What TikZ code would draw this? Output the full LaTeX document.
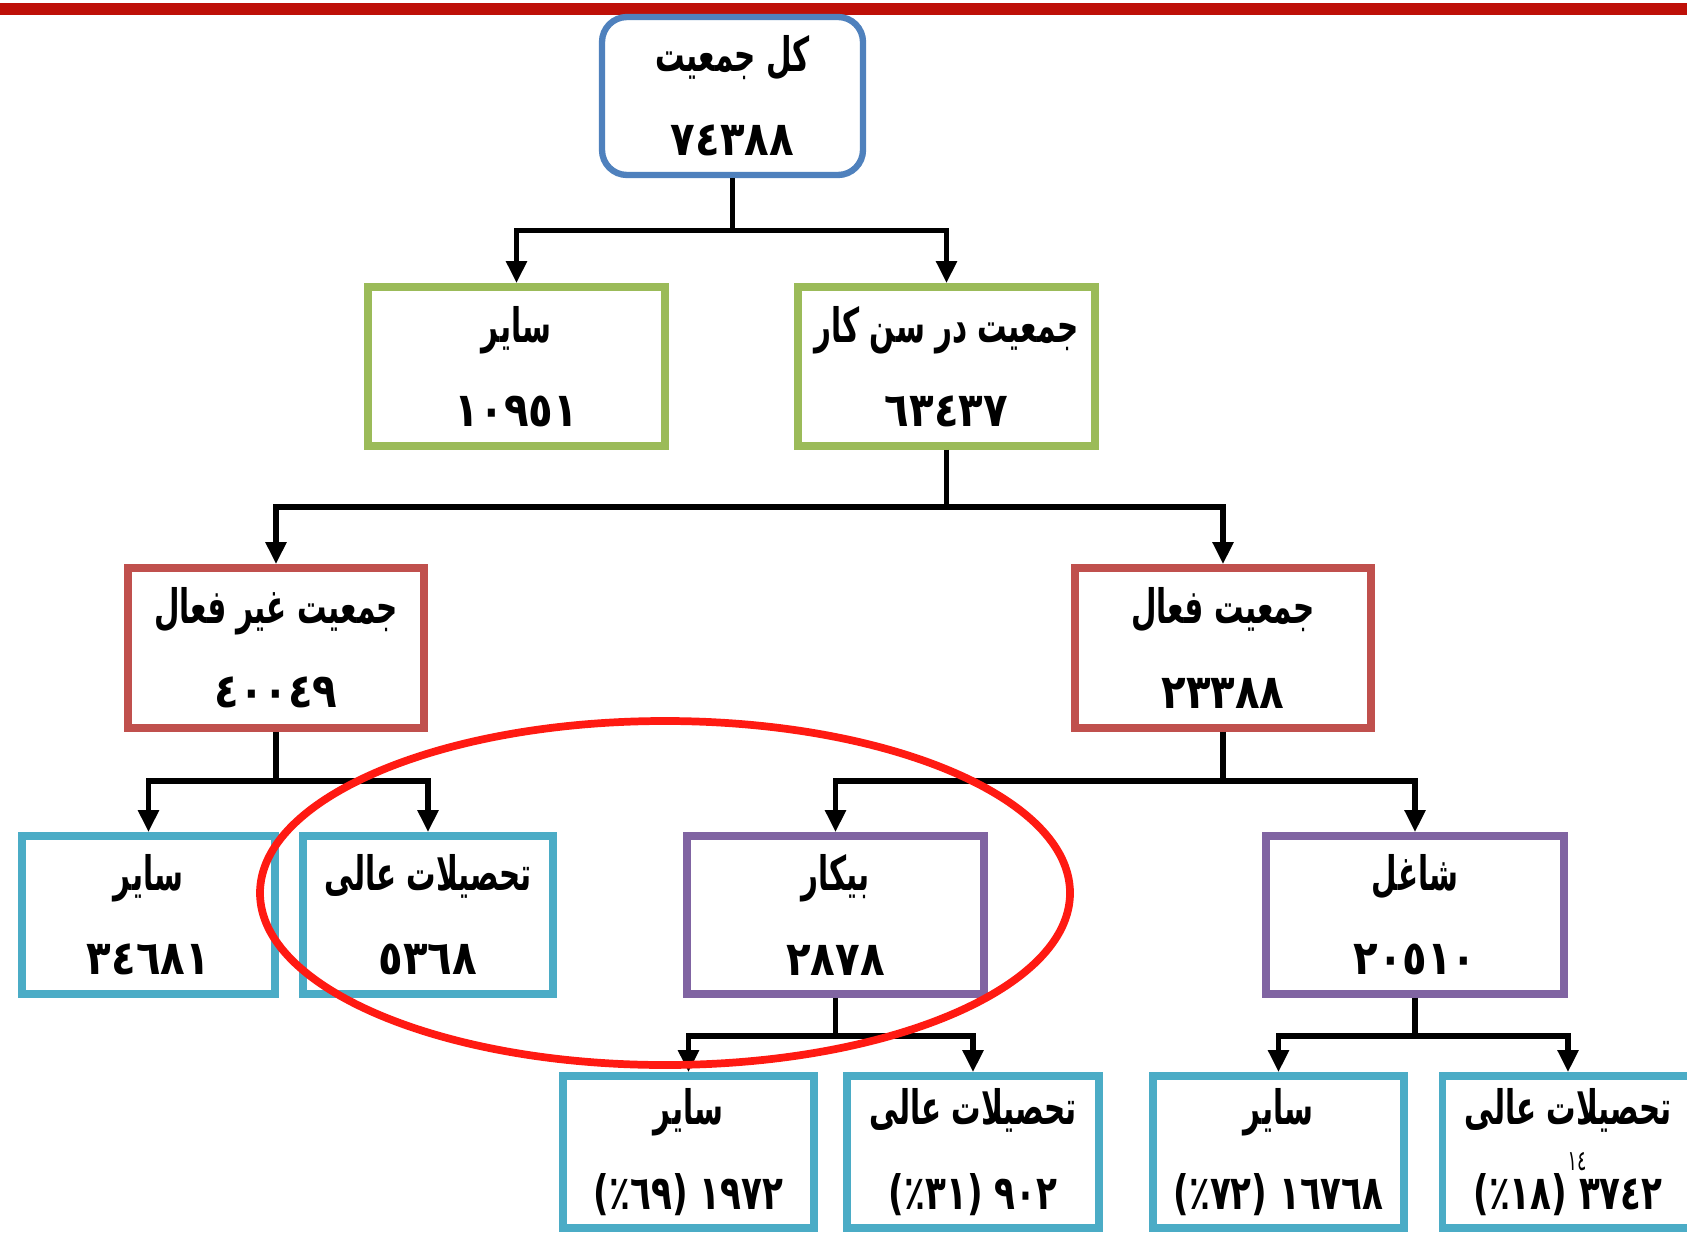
\documentclass[tikz,border=0pt]{standalone}
\usepackage{fontspec}
\usepackage{xcolor}
\usetikzlibrary{arrows.meta, positioning}
\TeXXeTstate=1
\newfontfamily\arabicfont[Script=Arabic, FakeStretch=0.62]{DejaVu Sans}
\newfontfamily\numfont[Script=Arabic, FakeStretch=0.85]{DejaVu Sans}
\newfontfamily\pctfont[Script=Arabic, FakeStretch=0.72]{DejaVu Sans}
\newcommand{\fa}[1]{{\arabicfont\beginR #1\endR}}
\newcommand{\fn}[1]{{\pctfont\beginR #1\endR}}
\definecolor{cblue}{HTML}{4F81BD}
\definecolor{cgreen}{HTML}{9BBB59}
\definecolor{cred}{HTML}{C0504D}
\definecolor{cpurple}{HTML}{8064A2}
\definecolor{ccyan}{HTML}{4BACC6}
\definecolor{cmark}{HTML}{FF1A12}
\definecolor{cbar}{HTML}{BE1008}

\begin{document}
\begin{tikzpicture}[
    box/.style={rectangle, line width=2.2pt, fill=white, align=center, inner sep=0pt, font=\numfont\bfseries\fontsize{13.5}{23}\selectfont},
    arrow/.style={-{Triangle[length=2.2mm, width=2mm]}, line width=1.5pt, draw=black}
]
\useasboundingbox (0,0) rectangle (16.87,-12.36);
\fill[cbar] (0,-0.03) rectangle (16.87,-0.15);
\node[box, draw=cblue, line width=1.8pt, rounded corners=2.5mm, minimum width=2.61cm, minimum height=1.58cm] (total) at (7.325, -0.96) {\fa{کل جمعیت}\\[1pt]٧٤٣٨٨};
\node[box, draw=cgreen, minimum width=2.97cm, minimum height=1.59cm] (other1) at (5.165, -3.665) {\fa{سایر}\\[1pt]١٠٩٥١};
\node[box, draw=cgreen, minimum width=2.97cm, minimum height=1.59cm] (working) at (9.465, -3.665) {\fa{جمعیت در سن کار}\\[1pt]٦٣٤٣٧};
\node[box, draw=cred, minimum width=2.96cm, minimum height=1.60cm] (inactive) at (2.76, -6.48) {\fa{جمعیت غیر فعال}\\[1pt]٤٠٠٤٩};
\node[box, draw=cred, minimum width=2.96cm, minimum height=1.60cm] (active) at (12.23, -6.48) {\fa{جمعیت فعال}\\[1pt]٢٣٣٨٨};
\node[box, draw=ccyan, minimum width=2.53cm, minimum height=1.58cm] (other2) at (1.485, -9.15) {\fa{سایر}\\[1pt]٣٤٦٨١};
\node[box, draw=ccyan, minimum width=2.50cm, minimum height=1.58cm] (higher1) at (4.28, -9.15) {\fa{تحصیلات عالی}\\[1pt]٥٣٦٨};
\node[box, draw=cpurple, minimum width=2.97cm, minimum height=1.58cm] (unemployed) at (8.355, -9.15) {\fa{بیکار}\\[1pt]٢٨٧٨};
\node[box, draw=cpurple, minimum width=2.98cm, minimum height=1.58cm] (employed) at (14.15, -9.15) {\fa{شاغل}\\[1pt]٢٠٥١٠};
\node[box, draw=ccyan, minimum width=2.51cm, minimum height=1.52cm] (other3) at (6.885, -11.52) {\fa{سایر}\\[1pt]\fn{١٩٧٢ (٦٩٪)}};
\node[box, draw=ccyan, minimum width=2.52cm, minimum height=1.52cm] (higher2) at (9.73, -11.52) {\fa{تحصیلات عالی}\\[1pt]\fn{٩٠٢ (٣١٪)}};
\node[box, draw=ccyan, minimum width=2.51cm, minimum height=1.52cm] (other4) at (12.785, -11.52) {\fa{سایر}\\[1pt]\fn{١٦٧٦٨ (٧٢٪)}};
\node[box, draw=ccyan, minimum width=2.51cm, minimum height=1.52cm] (higher3) at (15.68, -11.52) {\fa{تحصیلات عالی}\\[1pt]\fn{٣٧٤٢ (١٨٪)}};
\node[font=\arabicfont\fontsize{8}{8}\selectfont] (pagenum) at (15.77, -11.62) {١٤};
% connectors
\draw[arrow] (total.south) -- ++(0,-0.52) -| (other1.north);
\draw[arrow] (total.south) -- ++(0,-0.52) -| (working.north);
\draw[arrow] (working.south) -- ++(0,-0.57) -| (inactive.north);
\draw[arrow] (working.south) -- ++(0,-0.57) -| (active.north);
\draw[arrow] (inactive.south) -- ++(0,-0.49) -| (other2.north);
\draw[arrow] (inactive.south) -- ++(0,-0.49) -| (higher1.north);
\draw[arrow] (active.south) -- ++(0,-0.49) -| (unemployed.north);
\draw[arrow] (active.south) -- ++(0,-0.49) -| (employed.north);
\draw[arrow] (unemployed.south) -- ++(0,-0.38) -| (other3.north);
\draw[arrow] (unemployed.south) -- ++(0,-0.38) -| (higher2.north);
\draw[arrow] (employed.south) -- ++(0,-0.38) -| (other4.north);
\draw[arrow] (employed.south) -- ++(0,-0.38) -| (higher3.north);
% highlight
\draw[cmark, line width=2.2pt] (6.65, -8.93) ellipse [x radius=4.05, y radius=1.72];
\end{tikzpicture}
\end{document}
